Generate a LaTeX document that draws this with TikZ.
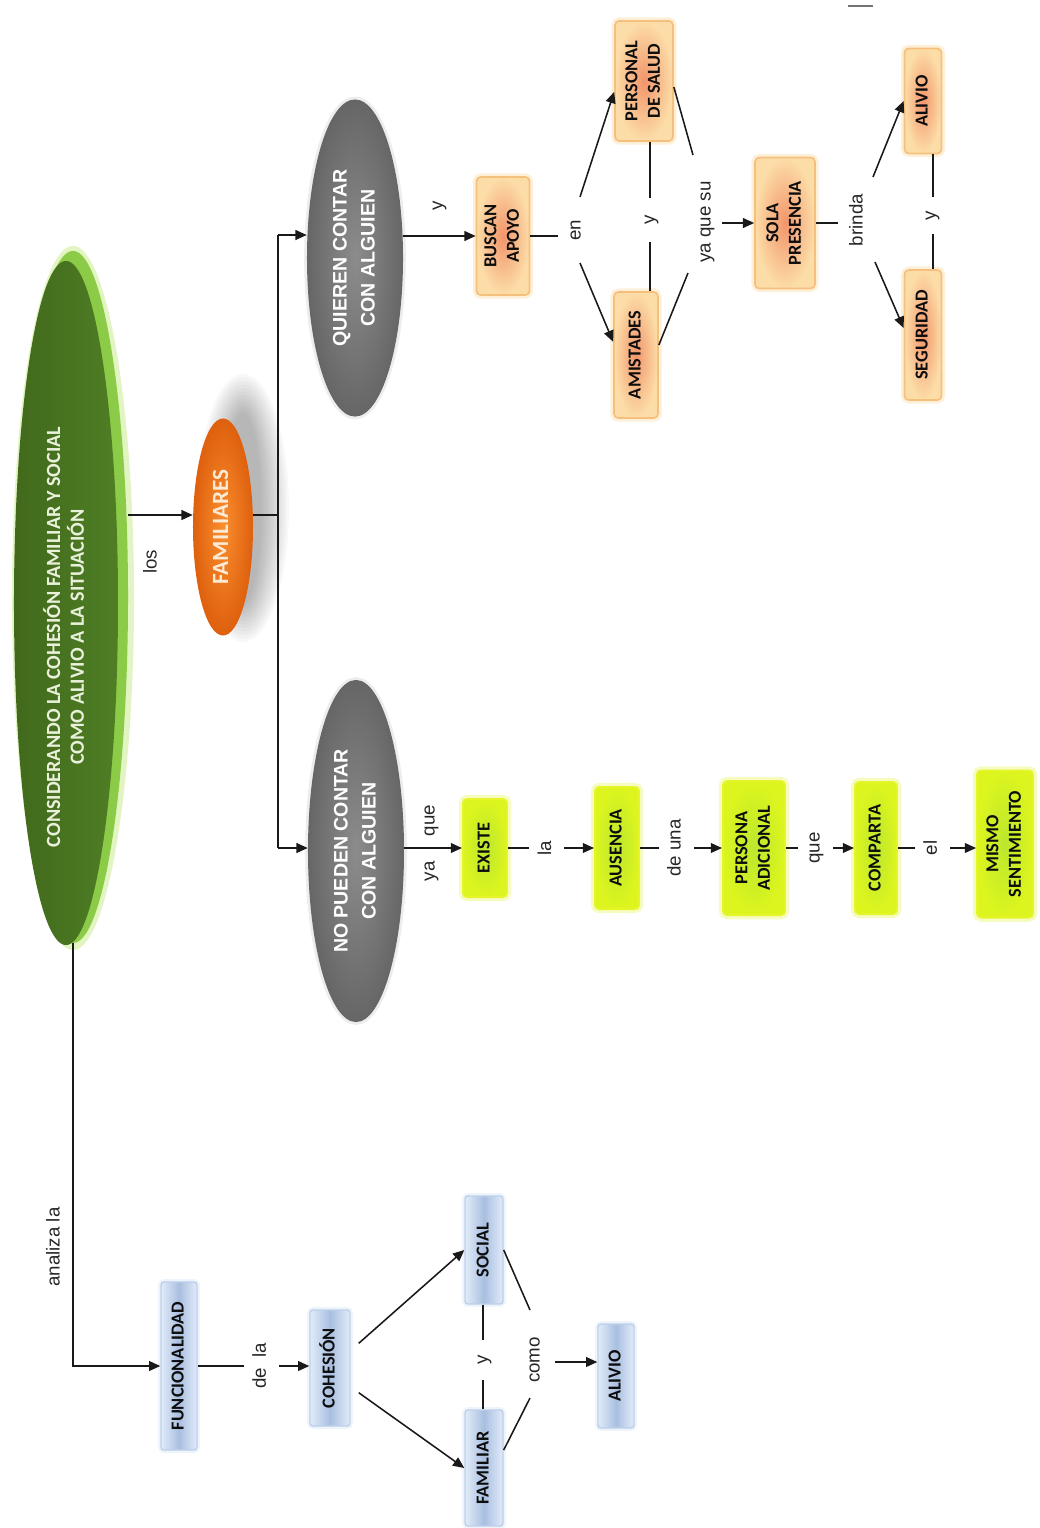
\documentclass[tikz,border=0pt]{standalone}
\usepackage{fontspec}
\usepackage{graphicx}
\usetikzlibrary{shapes.geometric,arrows.meta}
\newfontfamily\calfont{Carlito}
\newfontfamily\arfont{Liberation Sans}
% text set bottom-to-top, several lines centred
\newcommand{\vt}[1]{\rotatebox{90}{\begin{tabular}{@{}c@{}}#1\end{tabular}}}

\definecolor{ocin}{HTML}{F2956A}
\definecolor{ocout}{HTML}{FCDDA8}
\definecolor{ocedge}{HTML}{F5C07E}
\definecolor{ocglow}{HTML}{FEF0D8}
\definecolor{ycin}{HTML}{BCE72E}
\definecolor{ycout}{HTML}{DCF51E}
\definecolor{ycedge}{HTML}{E6F52A}
\definecolor{ycglow}{HTML}{F6FBC0}
\definecolor{bcmid}{HTML}{A9BFE0}
\definecolor{bcside}{HTML}{E2ECF9}
\definecolor{bcedge}{HTML}{BDD0EA}
\definecolor{bcglow}{HTML}{EEF4FC}
\definecolor{grin}{HTML}{8C8C8C}
\definecolor{grout}{HTML}{666666}
\definecolor{fmin}{HTML}{FA8E2E}
\definecolor{fmout}{HTML}{DE600E}
\definecolor{gdarkl}{HTML}{41691C}
\definecolor{gdarkr}{HTML}{4F7E25}
\definecolor{grim}{HTML}{8CCB48}
\definecolor{gglow}{HTML}{E2F4C2}
\definecolor{titletext}{HTML}{E9F1DA}
\definecolor{famtext}{HTML}{FBEBD6}

\tikzset{
  conn/.style={line width=1.1pt, draw=black!90},
  arr/.style={conn, -{Triangle[length=8pt,width=7pt]}},
  lbl/.style={font=\arfont\fontsize{13.3}{16}\selectfont, text=black!85, inner sep=0pt},
  cut/.style={lbl, fill=white, minimum width=0.875cm, inner ysep=1pt},
  boxbase/.style={rectangle, rounded corners=3pt, inner sep=0pt,
    font=\calfont\bfseries\fontsize{13}{16}\selectfont, text=black!95},
  obox/.style={boxbase, draw=ocedge, line width=1.2pt, inner color=ocin, outer color=ocout,
    preaction={draw=ocglow, line width=5pt}},
  ybox/.style={boxbase, draw=ycedge, line width=1.4pt, inner color=ycin, outer color=ycout,
    preaction={draw=ycglow, line width=6pt}},
  bbox/.style={boxbase, rounded corners=2pt, draw=bcedge, line width=1pt,
    left color=bcside, right color=bcside, middle color=bcmid,
    preaction={draw=bcglow, line width=4pt}},
  grayell/.style={ellipse, inner sep=0pt, inner color=grin, outer color=grout,
    preaction={draw=black!7, line width=4pt},
    font=\arfont\bfseries\fontsize{13.9}{20}\selectfont, text=white},
}

\begin{document}
\begin{tikzpicture}[x=0.025cm,y=-0.025cm]
\useasboundingbox (0,0) rectangle (1040,1528);

% ---------- central idea ----------
\node[ellipse, inner sep=0pt, fill=gglow, minimum width=3.05cm, minimum height=17.6cm] (mainglow) at (73,598) {};
\node[ellipse, inner sep=0pt, fill=grim, minimum width=2.75cm, minimum height=17.3cm] (mainrim) at (73,597) {};
\node[ellipse, inner sep=0pt, left color=gdarkl, right color=gdarkr, minimum width=2.6cm, minimum height=17.1cm] (main) at (66,603) {};
\node[font=\calfont\bfseries\fontsize{14.3}{16.5}\selectfont, text=titletext, inner sep=0pt] (title) at (67,637)
  {\vt{CONSIDERANDO LA COHESIÓN FAMILIAR Y SOCIAL\\COMO ALIVIO A LA SITUACIÓN}};

% ---------- FAMILIARES with its soft shadow ----------
\foreach \i in {1,...,12}
  \fill[black, opacity=0.028] (243,508) ellipse [x radius={16+2.5*\i}, y radius={92+3.5*\i}];
\node[ellipse, inner sep=0pt, inner color=fmin, outer color=fmout, minimum width=1.5cm, minimum height=5.425cm,
  font=\calfont\bfseries\fontsize{16.5}{18}\selectfont, text=famtext] (fam) at (223,527) {\vt{FAMILIARES}};

% ---------- second level ----------
\node[grayell, minimum width=2.4cm, minimum height=7.925cm] (quieren) at (355,258) {\vt{QUIEREN CONTAR\\CON ALGUIEN}};
\node[grayell, minimum width=2.4cm, minimum height=8.55cm] (nopueden) at (356,851) {\vt{NO PUEDEN CONTAR\\CON ALGUIEN}};

% ---------- upper branch (orange) ----------
\node[obox, minimum width=1.325cm, minimum height=2.95cm] (buscan) at (503,236) {\vt{BUSCAN\\APOYO}};
\node[obox, minimum width=1.45cm, minimum height=3.0cm] (personal) at (644,81) {\vt{PERSONAL\\DE SALUD}};
\node[obox, minimum width=1.1cm, minimum height=3.15cm] (amistades) at (636,355) {\vt{AMISTADES}};
\node[obox, minimum width=1.5cm, minimum height=3.275cm] (sola) at (785,223) {\vt{SOLA\\PRESENCIA}};
\node[obox, minimum width=0.925cm, minimum height=2.625cm] (alivioB) at (923,101) {\vt{ALIVIO}};
\node[obox, minimum width=0.925cm, minimum height=3.25cm] (seguridad) at (923,335) {\vt{SEGURIDAD}};

% ---------- lower branch (yellow-green) ----------
\node[ybox, minimum width=1.1cm, minimum height=2.45cm] (existe) at (485,848) {\vt{EXISTE}};
\node[ybox, minimum width=1.1cm, minimum height=3.05cm] (ausencia) at (617,848) {\vt{AUSENCIA}};
\node[ybox, minimum width=1.55cm, minimum height=3.35cm] (persona) at (754,848) {\vt{PERSONA\\ADICIONAL}};
\node[ybox, minimum width=1.05cm, minimum height=3.3cm] (comparta) at (876,848) {\vt{COMPARTA}};
\node[ybox, minimum width=1.4cm, minimum height=3.675cm] (mismo) at (1005,844) {\vt{MISMO\\SENTIMIENTO}};

% ---------- left branch (blue) ----------
\node[bbox, minimum width=0.9cm, minimum height=4.2cm] (func) at (179,1366) {\vt{FUNCIONALIDAD}};
\node[bbox, minimum width=1.0cm, minimum height=2.9cm] (cohesion) at (330,1368) {\vt{COHESIÓN}};
\node[bbox, minimum width=0.95cm, minimum height=2.7cm] (social) at (484,1250) {\vt{SOCIAL}};
\node[bbox, minimum width=0.95cm, minimum height=2.9cm] (familiar) at (484,1468) {\vt{FAMILIAR}};
\node[bbox, minimum width=0.9cm, minimum height=2.6cm] (alivioA) at (616,1376) {\vt{ALIVIO}};

% ---------- linking words ----------
\node[lbl] (los) at (152,562) {\vt{los}};
\node[lbl] (analiza) at (55,1247) {\vt{analiza la}};
\node[lbl] (yqb) at (438,206) {\vt{y}};
\node[lbl] (en) at (576,230) {\vt{en}};
\node[lbl] (ypa) at (650,220) {\vt{y}};
\node[lbl] (yqs) at (706,222) {\vt{ya que su}};
\node[lbl] (brinda) at (858,220) {\vt{brinda}};
\node[lbl] (yas) at (931,216) {\vt{y}};
\node[lbl] (yaque) at (430,843) {\vt{ya\hspace{1.35em}que}};
\node[lbl] (ysf) at (483,1360) {\vt{y}};
\node[lbl] (como) at (535,1360) {\vt{como}};

% free line ends next to the linking words
\coordinate (famrow) at (0,515);
\coordinate (tq) at (278,235);
\coordinate (tn) at (278,848);
\coordinate (en-in) at (558,236);
\coordinate (en-up) at (580,197);
\coordinate (en-dn) at (580,263);
\coordinate (ypa-a) at (650,198);
\coordinate (ypa-b) at (650,242);
\coordinate (yqs-a) at (693,155);
\coordinate (yqs-b) at (688,273);
\coordinate (yqs-c) at (722,223);
\coordinate (br-a) at (838,223);
\coordinate (br-b) at (873,177);
\coordinate (br-c) at (875,262);
\coordinate (yas-a) at (933,197);
\coordinate (yas-b) at (933,234);
\coordinate (ysf-a) at (483,1340);
\coordinate (ysf-b) at (483,1380);
\coordinate (cm-a) at (530,1310);
\coordinate (cm-b) at (530,1398);
\coordinate (cm-c) at (555,1362);
\coordinate (tick-a) at (848,6);
\coordinate (tick-b) at (873,6);

% ---------- connectors ----------
\draw[arr] (mainrim.east |- famrow) -- (fam.west |- famrow);
\draw[arr] (mainrim.south) |- (func.west);

\draw[conn] (fam.east |- famrow) -- (tq |- famrow);
\draw[conn] (tq) -- (tn);
\draw[arr] (tq) -- (tq -| quieren.west);
\draw[arr] (tn) -- (tn -| nopueden.west);

% upper branch
\draw[arr] (quieren.east |- buscan.west) -- (buscan.west);
\draw[conn] (buscan.east) -- (en-in);
\draw[arr] (en-up) -- (personal.200);
\draw[arr] (en-dn) -- (amistades.150);
\draw[conn] (personal.south -| ypa-a) -- (ypa-a);
\draw[conn] (ypa-b) -- (amistades.north -| ypa-b);
\draw[conn] ([yshift=-0.15cm]personal.east) -- (yqs-a);
\draw[conn] ([yshift=0.25cm]amistades.east) -- (yqs-b);
\draw[arr] (yqs-c) -- (sola.west);
\draw[conn] (sola.east) -- (br-a);
\draw[arr] (br-b) -- (alivioB.west);
\draw[arr] (br-c) -- (seguridad.160);
\draw[conn] (alivioB.south -| yas-a) -- (yas-a);
\draw[conn] (yas-b) -- (seguridad.north -| yas-b);

% lower branch
\draw[arr] (nopueden.east |- existe.west) -- (existe.west);
\draw[arr] (existe.east) -- node[cut, pos=0.45]{\vt{la}} (ausencia.west);
\draw[arr] (ausencia.east) -- node[cut, pos=0.44]{\vt{de una}} (persona.west);
\draw[arr] (persona.east) -- node[cut, pos=0.43]{\vt{que}} (comparta.west);
\draw[arr] (comparta.east) -- node[cut, pos=0.44]{\vt{el}} (mismo.west |- comparta.east);

% left branch
\draw[arr] (func.east) -- node[cut, pos=0.57]{\vt{de\hspace{0.55em}la}} (cohesion.west |- func.east);
\draw[arr] ([xshift=0.2cm]cohesion.50) -- (social.west);
\draw[arr] ([xshift=0.2cm]cohesion.-50) -- (familiar.west);
\draw[conn] (social.south -| ysf-a) -- (ysf-a);
\draw[conn] (ysf-b) -- (familiar.north -| ysf-b);
\draw[conn] (social.east) -- (cm-a);
\draw[conn] ([yshift=0.45cm]familiar.east) -- (cm-b);
\draw[arr] (cm-c) -- (alivioA.west |- cm-c);

% small mark at the top edge
\draw[line width=1.4pt, draw=black!55] (tick-a) -- (tick-b);
\end{tikzpicture}
\end{document}
